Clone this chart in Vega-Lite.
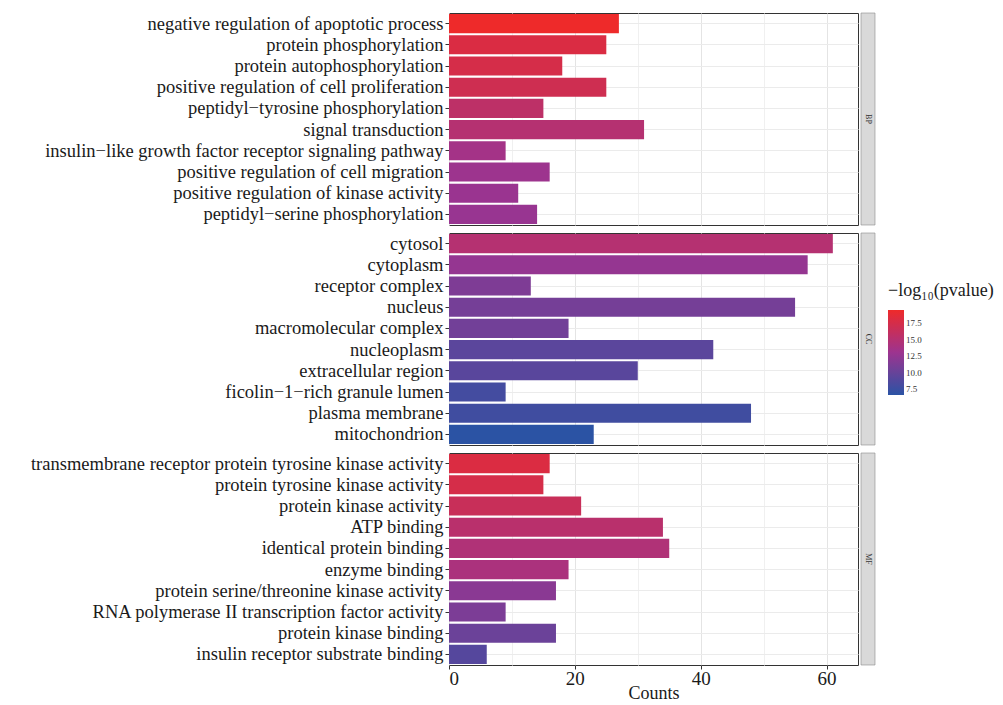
{
  "$schema": "https://vega.github.io/schema/vega-lite/v6.json",
  "background": "white",
  "padding": {"left": 29, "top": 12, "right": 0, "bottom": 0},
  "datasets": {
    "go": [
      {"term": "negative regulation of apoptotic process", "cat": "BP", "count": 27, "logp": 19.5},
      {"term": "protein phosphorylation", "cat": "BP", "count": 25, "logp": 17.9},
      {"term": "protein autophosphorylation", "cat": "BP", "count": 18, "logp": 17.5},
      {"term": "positive regulation of cell proliferation", "cat": "BP", "count": 25, "logp": 17.0},
      {"term": "peptidyl−tyrosine phosphorylation", "cat": "BP", "count": 15, "logp": 15.6},
      {"term": "signal transduction", "cat": "BP", "count": 31, "logp": 15.0},
      {"term": "insulin−like growth factor receptor signaling pathway", "cat": "BP", "count": 9, "logp": 13.6},
      {"term": "positive regulation of cell migration", "cat": "BP", "count": 16, "logp": 13.1},
      {"term": "positive regulation of kinase activity", "cat": "BP", "count": 11, "logp": 12.9},
      {"term": "peptidyl−serine phosphorylation", "cat": "BP", "count": 14, "logp": 12.8},
      {"term": "cytosol", "cat": "CC", "count": 61, "logp": 15.0},
      {"term": "cytoplasm", "cat": "CC", "count": 57, "logp": 12.6},
      {"term": "receptor complex", "cat": "CC", "count": 13, "logp": 11.3},
      {"term": "nucleus", "cat": "CC", "count": 55, "logp": 10.8},
      {"term": "macromolecular complex", "cat": "CC", "count": 19, "logp": 10.6},
      {"term": "nucleoplasm", "cat": "CC", "count": 42, "logp": 9.3},
      {"term": "extracellular region", "cat": "CC", "count": 30, "logp": 9.2},
      {"term": "ficolin−1−rich granule lumen", "cat": "CC", "count": 9, "logp": 8.0},
      {"term": "plasma membrane", "cat": "CC", "count": 48, "logp": 7.8},
      {"term": "mitochondrion", "cat": "CC", "count": 23, "logp": 6.6},
      {"term": "transmembrane receptor protein tyrosine kinase activity", "cat": "MF", "count": 16, "logp": 18.0},
      {"term": "protein tyrosine kinase activity", "cat": "MF", "count": 15, "logp": 17.5},
      {"term": "protein kinase activity", "cat": "MF", "count": 21, "logp": 16.5},
      {"term": "ATP binding", "cat": "MF", "count": 34, "logp": 15.3},
      {"term": "identical protein binding", "cat": "MF", "count": 35, "logp": 14.6},
      {"term": "enzyme binding", "cat": "MF", "count": 19, "logp": 14.2},
      {"term": "protein serine/threonine kinase activity", "cat": "MF", "count": 17, "logp": 12.0},
      {"term": "RNA polymerase II transcription factor activity", "cat": "MF", "count": 9, "logp": 11.2},
      {"term": "protein kinase binding", "cat": "MF", "count": 17, "logp": 10.2},
      {"term": "insulin receptor substrate binding", "cat": "MF", "count": 6, "logp": 9.0}
    ],
    "strips": [{"cat": "BP"}, {"cat": "CC"}, {"cat": "MF"}]
  },
  "columns": 2,
  "spacing": {"row": 6, "column": 1},
  "concat": [
    {
      "width": 409, "height": 212,
      "data": {"name": "go"},
      "transform": [{"filter": "datum.cat === 'BP'"}],
      "mark": {"type": "bar"},
      "encoding": {
        "y": {"field": "term", "type": "nominal", "sort": null, "scale": {"paddingInner": 0.1, "paddingOuter": 0.05}, "axis": {"title": null}},
        "x": {"field": "count", "type": "quantitative", "scale": {"domain": [0, 65], "nice": false, "zero": true},
              "axis": {"title": null, "labels": false, "ticks": false, "domain": false, "values": [0, 10, 20, 30, 40, 50, 60]}},
        "color": {"field": "logp", "type": "quantitative",
                  "scale": {"domain": [6.6, 13, 19.5], "range": ["#2B53A4", "#9C3490", "#EE2A2A"], "interpolate": "rgb"},
                  "legend": {"title": "−log₁₀(pvalue)", "values": [7.5, 10, 12.5, 15, 17.5], "format": ".1f"}}
      }
    },
    {
      "width": 14, "height": 212,
      "data": {"name": "strips"},
      "transform": [{"filter": "datum.cat === 'BP'"}],
      "layer": [
        {"mark": {"type": "rect", "fill": "#D9D9D9", "stroke": "#8a8a8a", "strokeWidth": 0.6}, "encoding": {}},
        {"mark": {"type": "text", "angle": 90, "fontSize": 8, "font": "Liberation Serif", "color": "#333"}, "encoding": {"text": {"field": "cat"}}}
      ]
    },
    {
      "width": 409, "height": 212,
      "data": {"name": "go"},
      "transform": [{"filter": "datum.cat === 'CC'"}],
      "mark": {"type": "bar"},
      "encoding": {
        "y": {"field": "term", "type": "nominal", "sort": null, "scale": {"paddingInner": 0.1, "paddingOuter": 0.05}, "axis": {"title": null}},
        "x": {"field": "count", "type": "quantitative", "scale": {"domain": [0, 65], "nice": false, "zero": true},
              "axis": {"title": null, "labels": false, "ticks": false, "domain": false, "values": [0, 10, 20, 30, 40, 50, 60]}},
        "color": {"field": "logp", "type": "quantitative",
                  "scale": {"domain": [6.6, 13, 19.5], "range": ["#2B53A4", "#9C3490", "#EE2A2A"], "interpolate": "rgb"},
                  "legend": {"title": "−log₁₀(pvalue)", "values": [7.5, 10, 12.5, 15, 17.5], "format": ".1f"}}
      }
    },
    {
      "width": 14, "height": 212,
      "data": {"name": "strips"},
      "transform": [{"filter": "datum.cat === 'CC'"}],
      "layer": [
        {"mark": {"type": "rect", "fill": "#D9D9D9", "stroke": "#8a8a8a", "strokeWidth": 0.6}, "encoding": {}},
        {"mark": {"type": "text", "angle": 90, "fontSize": 8, "font": "Liberation Serif", "color": "#333"}, "encoding": {"text": {"field": "cat"}}}
      ]
    },
    {
      "width": 409, "height": 212,
      "data": {"name": "go"},
      "transform": [{"filter": "datum.cat === 'MF'"}],
      "mark": {"type": "bar"},
      "encoding": {
        "y": {"field": "term", "type": "nominal", "sort": null, "scale": {"paddingInner": 0.1, "paddingOuter": 0.05}, "axis": {"title": null}},
        "x": {"field": "count", "type": "quantitative", "scale": {"domain": [0, 65], "nice": false, "zero": true},
              "axis": {"title": "Counts", "domain": false, "values": [0, 10, 20, 30, 40, 50, 60],
                       "labelExpr": "datum.value % 20 === 0 ? datum.label : ''",
                       "tickOpacity": {"condition": {"test": "datum.value % 20 === 0", "value": 1}, "value": 0}}},
        "color": {"field": "logp", "type": "quantitative",
                  "scale": {"domain": [6.6, 13, 19.5], "range": ["#2B53A4", "#9C3490", "#EE2A2A"], "interpolate": "rgb"},
                  "legend": {"title": "−log₁₀(pvalue)", "values": [7.5, 10, 12.5, 15, 17.5], "format": ".1f"}}
      }
    },
    {
      "width": 14, "height": 212,
      "data": {"name": "strips"},
      "transform": [{"filter": "datum.cat === 'MF'"}],
      "layer": [
        {"mark": {"type": "rect", "fill": "#D9D9D9", "stroke": "#8a8a8a", "strokeWidth": 0.6}, "encoding": {}},
        {"mark": {"type": "text", "angle": 90, "fontSize": 8, "font": "Liberation Serif", "color": "#333"}, "encoding": {"text": {"field": "cat"}}}
      ]
    }
  ],
  "resolve": {"scale": {"color": "shared"}},
  "config": {
    "font": "Liberation Serif",
    "view": {"stroke": "#333333", "strokeWidth": 1},
    "axisY": {
      "labelFont": "Liberation Serif", "labelFontSize": 18.5, "labelColor": "#1a1a1a", "labelPadding": 2, "labelLimit": 600,
      "tickColor": "#333333", "tickSize": 4, "domain": false,
      "grid": true, "gridColor": "#EBEBEB", "bandPosition": 0.5
    },
    "axisX": {
      "labelFont": "Liberation Serif", "labelFontSize": 19, "labelColor": "#1a1a1a", "labelPadding": 0,
      "tickColor": "#333333", "tickSize": 4,
      "titleFont": "Liberation Serif", "titleFontSize": 18, "titleFontWeight": "normal", "titleColor": "#1a1a1a", "titlePadding": -4,
      "grid": true,
      "gridColor": {"condition": {"test": "datum.value % 20 === 0", "value": "#E4E4E4"}, "value": "#F0F0F0"}
    },
    "legend": {
      "orient": "none", "legendX": 439, "legendY": 269,
      "titleFont": "Liberation Serif", "titleFontSize": 18, "titleFontWeight": "normal", "titleColor": "#1a1a1a", "titlePadding": 10, "titleLimit": 300,
      "labelFont": "Liberation Serif", "labelFontSize": 9, "labelColor": "#333",
      "gradientLength": 85, "gradientThickness": 16, "gradientStrokeWidth": 0
    }
  }
}
